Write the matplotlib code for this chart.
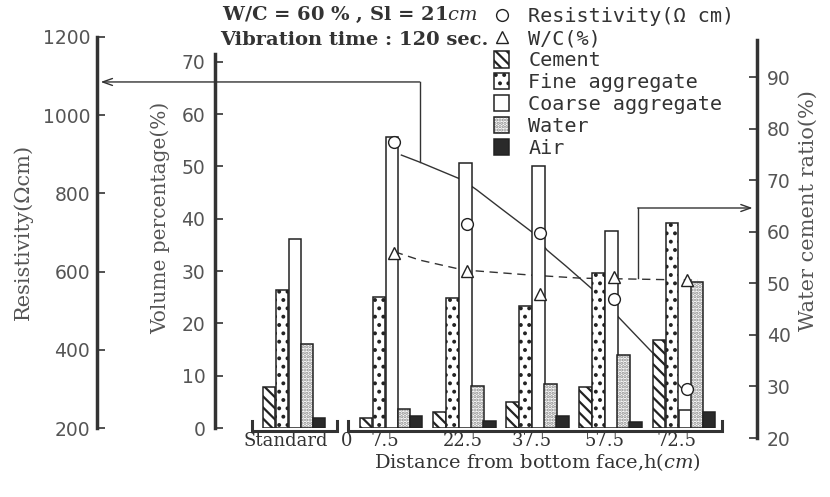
import numpy as np
import matplotlib
matplotlib.use('Agg')
import matplotlib.pyplot as plt
from matplotlib.patches import Patch
from matplotlib.lines import Line2D

# valores
grupos = ['Standard', '7.5', '22.5', '37.5', '57.5', '72.5']
cimento = [7.9, 1.9, 3.1, 4.9, 7.9, 16.8]
agregado_fino = [26.4, 25.1, 24.8, 23.3, 29.6, 39.1]
agregado_graudo = [36.1, 55.7, 50.6, 50.0, 37.7, 3.4]
agua = [16.0, 3.6, 8.1, 8.4, 14.0, 28.0]
ar = [1.9, 2.3, 1.4, 2.2, 1.2, 3.0]

resistividade = [931, 722, 699, 530, 300]
relacao_ac = [55.9, 52.4, 47.9, 51.2, 50.6]

# curvas ajustadas desenhadas no grafico original (pontos lidos)
curva_res_x = [0.15, 0.40, 0.99, 1.18, 1.50, 1.95, 2.14, 2.40, 2.79, 3.13, 3.59, 4.00]
curva_res_y = [898, 880, 834, 809, 763, 699, 655, 614, 550, 481, 391, 297]
curva_ac_x = [0.06, 0.40, 0.99, 1.91, 2.59, 4.20]
curva_ac_y = [56.1, 54.5, 52.6, 51.6, 51.0, 50.6]

rotulos_x = ['Standard', '0', '7.5', '22.5', '37.5', '57.5', '72.5']

W, H = 830, 497
def fx(px):
    return px / W
def fy(py):
    return 1 - py / H

plt.rcParams['mathtext.fontset'] = 'dejavuserif'
plt.rcParams['hatch.linewidth'] = 1.6
preto = '#222222'
cinza = '#555555'

fig = plt.figure(figsize=(8.3, 4.97), dpi=100)
esq, dir_ = 97, 757
xlim = (-4.01, 5.01)

ax_res = fig.add_axes([fx(esq), fy(428), fx(dir_ - esq), (428 - 37) / H])
ax_ac = fig.add_axes([fx(esq), fy(438), fx(dir_ - esq), (438 - 40) / H])
ax = fig.add_axes([fx(esq), fy(428), fx(dir_ - esq), (428 - 54) / H])

for a in (ax_res, ax_ac, ax):
    a.set_xlim(*xlim)
    a.patch.set_visible(False)
    for s in a.spines.values():
        s.set_visible(False)

# eixo resistividade
ax_res.set_ylim(200, 1200)
ax_res.set_yticks(range(200, 1201, 200))
ax_res.set_xticks([])
ax_res.spines['left'].set_visible(True)
ax_res.spines['left'].set_linewidth(2.5)
ax_res.spines['left'].set_color('#333')
ax_res.tick_params(axis='y', direction='in', length=6, width=1.2, pad=5,
                   labelsize=13.5, labelcolor=cinza, colors='#333')

# eixo relacao agua/cimento
ax_ac.set_ylim(20, 20 + 398 / 5.157)
ax_ac.set_yticks(range(20, 91, 10))
ax_ac.set_xticks([])
ax_ac.yaxis.tick_right()
ax_ac.spines['right'].set_visible(True)
ax_ac.spines['right'].set_linewidth(2.5)
ax_ac.spines['right'].set_color('#333')
ax_ac.tick_params(axis='y', direction='in', length=6, width=1.2, pad=7,
                  labelsize=13.5, labelcolor=cinza, colors='#333')

# eixo porcentagem em volume
ax.set_ylim(0, 71.5)
ax.set_yticks(range(0, 71, 10))
ax.spines['left'].set_visible(True)
ax.spines['left'].set_position(('axes', (215 - esq) / (dir_ - esq)))
ax.spines['left'].set_linewidth(2.5)
ax.spines['left'].set_color('#333')
ax.tick_params(axis='y', direction='in', length=6, width=1.2, pad=7,
               labelsize=13.5, labelcolor=cinza, colors='#333')

pos_grupos = np.array([-1.325, 0, 1, 2, 3, 4])
offs = np.array([-24.25, -11.25, 1.75, 13.75, 25.75]) / 73.2
larg = 12.5 / 73.2

# barras
est_cim = dict(facecolor='white', edgecolor=preto, hatch='\\\\\\', linewidth=1.1)
est_fino = dict(facecolor='white', edgecolor=preto, hatch='..', linewidth=1.1)
est_graudo = dict(facecolor='white', edgecolor=preto, linewidth=1.1)
est_agua_fundo = dict(facecolor='white', edgecolor='#8a8a8a', hatch='.....', linewidth=0)
est_contorno = dict(facecolor='none', edgecolor=preto, linewidth=1.1)
est_ar = dict(facecolor='#2a2a2a', edgecolor=preto, linewidth=1.1)

ax.bar(pos_grupos + offs[0], cimento, width=larg, zorder=3, **est_cim)
ax.bar(pos_grupos + offs[1], agregado_fino, width=larg, zorder=3, **est_fino)
ax.bar(pos_grupos + offs[2], agregado_graudo, width=larg, zorder=3, **est_graudo)
ax.bar(pos_grupos + offs[3], agua, width=larg, zorder=3, **est_agua_fundo)
ax.bar(pos_grupos + offs[3], agua, width=larg, zorder=3, **est_contorno)
ax.bar(pos_grupos + offs[4], ar, width=larg, zorder=3, **est_ar)

# linha de base
for x0, x1 in [(pos_grupos[0] - 0.567, pos_grupos[0] + 0.594),
               (pos_grupos[1] - 0.58, pos_grupos[-1] + 0.53)]:
    ax.plot([x0, x0, x1, x1], [1.3, -0.5, -0.5, 1.3], color='#333', lw=2.2,
            clip_on=False, zorder=4, solid_joinstyle='miter')

# curvas (atras das barras)
ax.plot(curva_res_x, curva_res_y, color='#333', lw=1.0, zorder=2,
        transform=ax_res.transData, clip_on=False)
ax.plot(curva_ac_x, curva_ac_y, color='#333', lw=1.0, ls=(0, (6, 4)), zorder=2,
        transform=ax_ac.transData, clip_on=False)

# marcadores
xm = pos_grupos[1:] + 0.05
ax.plot(xm, resistividade, 'o', ms=8.5, mfc='white', mec=preto, mew=1.0,
        zorder=5, transform=ax_res.transData, clip_on=False)
ax.plot(xm, relacao_ac, '^', ms=8, mfc='white', mec=preto, mew=1.0,
        zorder=5, transform=ax_ac.transData, clip_on=False)

# setas
ax.plot([0.40, 0.40], [880, 1085], color='#333', lw=1.0, zorder=2,
        transform=ax_res.transData, clip_on=False)
ax.annotate('', xy=(-3.96, 1085), xytext=(0.40, 1085), xycoords=ax_res.transData,
            arrowprops=dict(arrowstyle='->,head_length=0.7,head_width=0.25',
                            color='#333', lw=1.0, shrinkA=0, shrinkB=0))
ax.plot([3.38, 3.38], [51.1, 64.6], color='#333', lw=1.0, zorder=2,
        transform=ax_ac.transData, clip_on=False)
ax.annotate('', xy=(4.95, 64.6), xytext=(3.38, 64.6), xycoords=ax_ac.transData,
            arrowprops=dict(arrowstyle='->,head_length=0.7,head_width=0.25',
                            color='#333', lw=1.0, shrinkA=0, shrinkB=0))

# rotulos do eixo x
pos_rotulos = [-1.43, -0.594, -0.075, 0.99, 1.93, 2.93, 3.91]
ax.set_xticks(pos_rotulos, rotulos_x, fontfamily='DejaVu Serif', fontsize=13)
ax.tick_params(axis='x', length=0, pad=3, labelcolor='#333')

fig.text(fx(537), fy(462), r'Distance from bottom face,h($\mathit{cm}$)',
         ha='center', va='center', family='DejaVu Serif', size=14, color='#333')
fig.text(fx(23), fy(232), 'Resistivity(\u03a9cm)', rotation=90, ha='center',
         va='center', family='DejaVu Serif', size=15, color=cinza)
fig.text(fx(160), fy(218), 'Volume percentage(%)', rotation=90, ha='center',
         va='center', family='DejaVu Serif', size=14.5, color=cinza)
fig.text(fx(808), fy(211), 'Water cement ratio(%)', rotation=90, ha='center',
         va='center', family='DejaVu Serif', size=15, color=cinza)

fig.text(fx(478), fy(15), r'W/C = 60 % , Sl = 21$\mathit{cm}$', ha='right',
         va='center', family='DejaVu Serif', weight='bold', size=14, color='#333')
fig.text(fx(488), fy(40), 'Vibration time : 120 sec.', ha='right',
         va='center', family='DejaVu Serif', weight='bold', size=14, color='#333')

# legenda
handles = [Line2D([], [], marker='o', ls='none', ms=8.5, mfc='white', mec=preto),
           Line2D([], [], marker='^', ls='none', ms=8.5, mfc='white', mec=preto),
           Patch(**est_cim), Patch(**est_fino), Patch(**est_graudo),
           (Patch(**est_agua_fundo), Patch(**est_contorno)), Patch(**est_ar)]
rotulos_leg = ['Resistivity(\u03a9 cm)', 'W/C(%)', 'Cement', 'Fine aggregate',
               'Coarse aggregate', 'Water', 'Air']
leg = fig.legend(handles, rotulos_leg, loc='upper left', bbox_to_anchor=(fx(494), fy(7)),
                 frameon=False, prop={'family': 'DejaVu Sans Mono', 'size': 14.5},
                 handlelength=0.75, handleheight=0.9, labelspacing=0.13,
                 handletextpad=0.95, borderpad=0, borderaxespad=0)
for t in leg.get_texts():
    t.set_color('#333')

fig.savefig('out.png', dpi=100)
